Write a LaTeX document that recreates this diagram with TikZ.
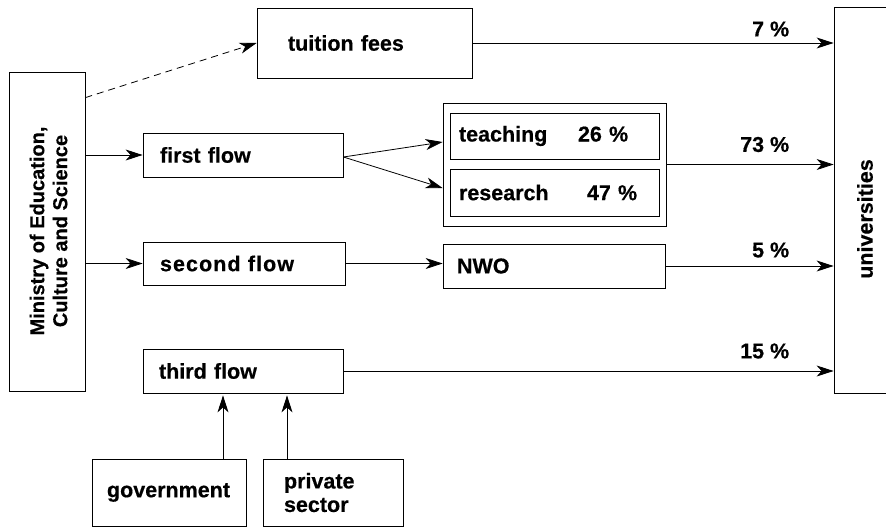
\documentclass[tikz,border=0pt]{standalone}
\usepackage{fontspec}
\setmainfont{Liberation Sans}[BoldFeatures={FakeBold=0.5}]
\newfontfamily\spacedfont{Liberation Sans}[LetterSpace=5, BoldFeatures={FakeBold=0.5}]
\usetikzlibrary{arrows.meta,calc}
\tikzset{
  box/.style={draw, line width=0.8pt, rectangle, inner ysep=0pt, align=left,
    font=\fontsize{21.5}{23.5}\selectfont\bfseries},
  lbl/.style={inner sep=0pt, font=\fontsize{21.5}{23.5}\selectfont\bfseries},
  arr/.style={line width=0.8pt, -{Stealth[length=17pt,width=11pt,inset=5pt]}},
}
\begin{document}
\begin{tikzpicture}[x=1pt,y=-1pt]
\useasboundingbox (0,0) rectangle (886,527);
% boxes
\node[box, minimum width=76pt, minimum height=319pt] (ministry) at (47,231.5) {};
\node[lbl, rotate=90, align=center, font=\fontsize{20}{23}\selectfont\bfseries] (ministrytext) at (48.5,231) {Ministry of Education,\\Culture and Science};
\node[box, text width=153pt, inner xsep=31pt, minimum height=70pt] (tuition) at (364.5,43) {tuition fees};
\node[box, minimum width=70pt, minimum height=386pt] (unis) at (869,200) {};
\node[lbl, rotate=90] (unistext) at (865,219) {universities};
\node[box, text width=166pt, inner xsep=17pt, minimum height=44pt] (first) at (243,155) {first flow};
\node[box, minimum width=223pt, minimum height=123pt] (outer) at (554.5,164.5) {};
\node[box, text width=191pt, inner xsep=9pt, minimum height=46pt] (teach) at (554.5,136) {\makebox[119pt][l]{teaching}26 \%};
\node[box, text width=191pt, inner xsep=9pt, minimum height=47pt] (research) at (554.5,192.5) {\makebox[128pt][l]{research}47 \%};
\node[box, text width=168pt, inner xsep=17pt, minimum height=43pt] (second) at (244,263.5) {{\spacedfont\bfseries second flow}};
\node[box, text width=194pt, inner xsep=14pt, minimum height=44pt] (nwo) at (554,266) {NWO};
\node[box, text width=168pt, inner xsep=16pt, minimum height=44pt] (third) at (243,371) {third flow};
\node[box, text width=124pt, inner xsep=15pt, minimum height=67pt] (gov) at (169,492.5) {government};
\node[box, text width=98pt, inner xsep=21pt, minimum height=67pt] (priv) at (333,492.5) {private\\sector};
% connectors
\coordinate (m0) at ($(ministry.north east)+(0,26)$);
\draw[arr, dashed, dash pattern=on 7pt off 5pt] (m0) -- (tuition.west);
\draw[arr] (ministry.east |- first.west) -- (first.west);
\draw[arr] (ministry.east |- second.west) -- (second.west);
\draw[arr] ($(first.east)+(0,2)$) -- ($(outer.west)+(0,-22.5)$);
\draw[arr] ($(first.east)+(0,2)$) -- ($(outer.west)+(0,23.5)$);
\draw[arr] (second.east) -- (nwo.west |- second.east);
\draw[arr] (tuition.east) -- (unis.west |- tuition.east) node[lbl, pos=1, anchor=south east, yshift=6pt, xshift=-44pt] (p7) {7 \%};
\draw[arr] (outer.east) -- (unis.west |- outer.east) node[lbl, pos=1, anchor=south east, yshift=12pt, xshift=-44pt] (p73) {73 \%};
\draw[arr] (nwo.east) -- (unis.west |- nwo.east) node[lbl, pos=1, anchor=south east, yshift=8pt, xshift=-44pt] (p5) {5 \%};
\draw[arr] (third.east) -- (unis.west |- third.east) node[lbl, pos=1, anchor=south east, yshift=12pt, xshift=-44pt] (p15) {15 \%};
\coordinate (g1) at ($(gov.north)+(54,0)$);
\coordinate (s1) at ($(priv.north)+(-46,0)$);
\draw[arr] (g1) -- ($(g1 |- third.south)+(0,2)$);
\draw[arr] (s1) -- ($(s1 |- third.south)+(0,2)$);
\end{tikzpicture}
\end{document}
